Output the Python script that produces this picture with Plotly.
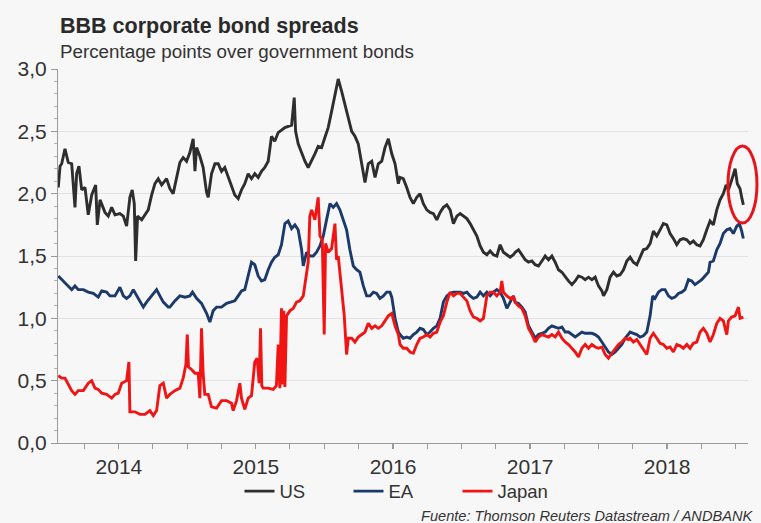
import pandas as pd
import plotly.graph_objects as go

# ---- data (decimal year, percentage points) ----
us = [(2014.057,2.05),(2014.070,2.22),(2014.082,2.24),(2014.106,2.36),(2014.130,2.25),(2014.155,2.24),(2014.179,1.89),(2014.191,2.16),(2014.208,2.22),(2014.228,2.03),(2014.252,2.05),(2014.276,1.83),(2014.301,1.99),(2014.330,2.07),(2014.342,1.75),(2014.362,1.95),(2014.398,1.85),(2014.422,1.82),(2014.447,1.89),(2014.471,1.83),(2014.507,1.84),(2014.532,1.82),(2014.556,1.74),(2014.580,1.97),(2014.597,2.03),(2014.612,1.92),(2014.622,1.46),(2014.636,1.82),(2014.666,1.79),(2014.690,1.83),(2014.714,1.87),(2014.739,1.99),(2014.763,2.08),(2014.787,2.12),(2014.812,2.07),(2014.848,2.12),
      (2014.872,2.04),(2014.896,2.00),(2014.921,2.13),(2014.945,2.25),(2014.969,2.29),(2014.994,2.26),(2015.018,2.33),(2015.042,2.44),(2015.055,2.18),(2015.067,2.37),(2015.091,2.30),(2015.115,2.21),(2015.140,2.01),(2015.152,1.97),(2015.176,2.16),(2015.201,2.24),(2015.225,2.24),(2015.249,2.18),(2015.273,2.21),(2015.298,2.13),(2015.322,2.05),(2015.346,1.99),(2015.371,1.96),(2015.395,2.03),(2015.419,2.08),(2015.444,2.16),(2015.468,2.12),(2015.492,2.16),(2015.517,2.13),(2015.541,2.18),(2015.565,2.21),(2015.590,2.26),(2015.614,2.46),(2015.638,2.42),(2015.663,2.49),(2015.687,2.51),
      (2015.712,2.53),(2015.736,2.54),(2015.761,2.55),(2015.780,2.77),(2015.790,2.50),(2015.809,2.40),(2015.834,2.33),(2015.858,2.26),(2015.882,2.21),(2015.907,2.26),(2015.931,2.32),(2015.955,2.38),(2015.980,2.37),(2016.004,2.45),(2016.028,2.53),(2016.053,2.66),(2016.077,2.79),(2016.101,2.92),(2016.126,2.82),(2016.150,2.71),(2016.174,2.61),(2016.199,2.50),(2016.223,2.46),(2016.247,2.40),(2016.272,2.24),(2016.296,2.09),(2016.320,2.24),(2016.345,2.26),(2016.369,2.13),(2016.393,2.24),(2016.418,2.26),(2016.442,2.37),(2016.466,2.44),(2016.491,2.32),(2016.515,2.24),(2016.539,2.08),
      (2016.551,2.13),(2016.575,2.12),(2016.600,2.05),(2016.624,1.97),(2016.648,1.92),(2016.673,1.97),(2016.697,2.00),(2016.721,1.92),(2016.746,1.87),(2016.770,1.85),(2016.794,1.84),(2016.819,1.79),(2016.843,1.85),(2016.867,1.89),(2016.892,1.91),(2016.916,1.87),(2016.940,1.76),(2016.965,1.82),(2016.989,1.84),(2017.013,1.82),(2017.038,1.80),(2017.062,1.76),(2017.086,1.71),(2017.111,1.66),(2017.135,1.58),(2017.159,1.53),(2017.184,1.51),(2017.208,1.54),(2017.232,1.51),(2017.257,1.50),(2017.281,1.59),(2017.305,1.53),(2017.330,1.51),(2017.354,1.49),(2017.378,1.51),
      (2017.391,1.53),(2017.415,1.55),(2017.440,1.51),(2017.464,1.47),(2017.488,1.45),(2017.513,1.46),(2017.537,1.43),(2017.561,1.42),(2017.586,1.46),(2017.610,1.50),(2017.634,1.47),(2017.659,1.50),(2017.683,1.45),(2017.707,1.39),(2017.732,1.37),(2017.756,1.33),(2017.780,1.30),(2017.805,1.27),(2017.829,1.30),(2017.853,1.34),(2017.878,1.33),(2017.902,1.31),(2017.926,1.33),(2017.951,1.31),(2017.975,1.33),(2017.999,1.26),(2018.024,1.22),(2018.036,1.18),(2018.060,1.23),(2018.084,1.33),(2018.109,1.37),(2018.133,1.34),(2018.157,1.35),(2018.182,1.39),(2018.206,1.46),
      (2018.230,1.49),(2018.254,1.45),(2018.279,1.43),(2018.303,1.49),(2018.327,1.55),(2018.352,1.56),(2018.376,1.60),(2018.400,1.70),(2018.425,1.66),(2018.449,1.71),(2018.473,1.76),(2018.498,1.75),(2018.522,1.68),(2018.546,1.64),(2018.571,1.59),(2018.595,1.63),(2018.619,1.64),(2018.644,1.63),(2018.668,1.60),(2018.692,1.62),(2018.717,1.59),(2018.741,1.58),(2018.765,1.63),(2018.790,1.71),(2018.814,1.78),(2018.838,1.75),(2018.863,1.87),(2018.887,1.95),(2018.911,2.00),(2018.931,2.07),(2018.948,2.03),(2018.972,2.11),(2018.997,2.20),(2019.013,2.08),(2019.033,2.04),(2019.045,1.97),(2019.057,1.91)]

ea = [(2014.057,1.34),(2014.082,1.31),(2014.106,1.29),(2014.130,1.26),(2014.155,1.23),(2014.179,1.26),(2014.203,1.23),(2014.240,1.23),(2014.276,1.21),(2014.313,1.20),(2014.349,1.17),(2014.374,1.22),(2014.410,1.21),(2014.434,1.18),(2014.471,1.18),(2014.507,1.25),(2014.532,1.18),(2014.556,1.16),(2014.580,1.18),(2014.605,1.23),(2014.629,1.18),(2014.653,1.13),(2014.678,1.09),(2014.702,1.13),(2014.739,1.18),(2014.775,1.23),(2014.799,1.18),(2014.824,1.13),(2014.860,1.09),
      (2014.872,1.09),(2014.908,1.14),(2014.945,1.18),(2014.982,1.17),(2015.018,1.18),(2015.037,1.21),(2015.067,1.16),(2015.103,1.12),(2015.140,1.04),(2015.164,0.97),(2015.188,1.06),(2015.213,1.09),(2015.249,1.09),(2015.286,1.12),(2015.310,1.13),(2015.346,1.14),(2015.371,1.18),(2015.395,1.22),(2015.419,1.23),(2015.444,1.34),(2015.468,1.45),(2015.492,1.43),(2015.517,1.34),(2015.541,1.30),(2015.565,1.31),(2015.590,1.39),(2015.614,1.45),(2015.638,1.49),(2015.663,1.51),(2015.687,1.59),
      (2015.712,1.76),(2015.736,1.78),(2015.761,1.72),(2015.785,1.75),(2015.809,1.71),(2015.834,1.55),(2015.846,1.42),(2015.870,1.53),(2015.894,1.50),(2015.919,1.50),(2015.943,1.53),(2015.968,1.58),(2015.992,1.66),(2016.016,1.79),(2016.041,1.92),(2016.065,1.89),(2016.089,1.92),(2016.113,1.87),(2016.138,1.79),(2016.162,1.71),(2016.186,1.55),(2016.211,1.42),(2016.235,1.39),(2016.259,1.37),(2016.284,1.26),(2016.308,1.18),(2016.332,1.18),(2016.357,1.21),(2016.381,1.20),(2016.405,1.16),(2016.430,1.18),(2016.454,1.21),(2016.478,1.21),(2016.491,1.17),(2016.515,1.00),(2016.539,0.89),
      (2016.551,0.87),(2016.575,0.84),(2016.600,0.85),(2016.624,0.84),(2016.648,0.87),(2016.673,0.89),(2016.697,0.92),(2016.721,0.91),(2016.746,0.87),(2016.770,0.89),(2016.794,0.92),(2016.819,0.94),(2016.843,1.00),(2016.867,1.13),(2016.892,1.18),(2016.916,1.20),(2016.940,1.21),(2016.965,1.21),(2016.989,1.21),(2017.013,1.20),(2017.038,1.21),(2017.062,1.18),(2017.086,1.16),(2017.111,1.17),(2017.135,1.21),(2017.159,1.18),(2017.184,1.21),(2017.208,1.18),(2017.232,1.21),(2017.257,1.23),(2017.281,1.21),(2017.305,1.16),(2017.330,1.08),(2017.354,1.13),(2017.378,1.18),
      (2017.391,1.13),(2017.415,1.12),(2017.440,1.09),(2017.464,1.05),(2017.488,0.94),(2017.513,0.89),(2017.537,0.84),(2017.561,0.87),(2017.586,0.88),(2017.610,0.89),(2017.634,0.92),(2017.659,0.94),(2017.683,0.93),(2017.707,0.92),(2017.732,0.93),(2017.756,0.89),(2017.780,0.89),(2017.805,0.87),(2017.829,0.85),(2017.853,0.87),(2017.878,0.89),(2017.902,0.88),(2017.926,0.88),(2017.951,0.88),(2017.975,0.87),(2017.999,0.85),(2018.024,0.81),(2018.048,0.77),(2018.072,0.73),(2018.097,0.71),(2018.121,0.73),(2018.145,0.76),(2018.170,0.79),(2018.194,0.84),(2018.218,0.88),
      (2018.230,0.89),(2018.254,0.88),(2018.279,0.87),(2018.303,0.85),(2018.327,0.86),(2018.352,0.89),(2018.376,1.02),(2018.395,1.18),(2018.412,1.16),(2018.437,1.21),(2018.461,1.23),(2018.485,1.23),(2018.510,1.18),(2018.534,1.16),(2018.558,1.17),(2018.583,1.20),(2018.607,1.21),(2018.631,1.23),(2018.656,1.31),(2018.680,1.30),(2018.704,1.27),(2018.729,1.29),(2018.753,1.31),(2018.777,1.34),(2018.802,1.37),(2018.814,1.45),(2018.838,1.46),(2018.863,1.55),(2018.887,1.60),(2018.911,1.68),(2018.936,1.71),(2018.960,1.72),(2018.984,1.68),(2019.009,1.74),(2019.028,1.76),(2019.045,1.70),(2019.057,1.64)]

japan = [(2014.057,0.54),(2014.082,0.52),(2014.106,0.52),(2014.130,0.47),(2014.155,0.42),(2014.179,0.39),(2014.203,0.42),(2014.240,0.42),(2014.276,0.48),(2014.301,0.50),(2014.325,0.44),(2014.349,0.43),(2014.374,0.40),(2014.410,0.39),(2014.447,0.36),(2014.471,0.39),(2014.495,0.40),(2014.520,0.48),(2014.556,0.50),(2014.573,0.65),(2014.580,0.25),(2014.617,0.25),(2014.653,0.23),(2014.690,0.23),(2014.726,0.26),(2014.751,0.22),(2014.775,0.26),(2014.799,0.46),(2014.824,0.48),(2014.848,0.36),
         (2014.872,0.39),(2014.908,0.42),(2014.945,0.44),(2014.969,0.52),(2014.989,0.63),(2014.999,0.87),(2015.008,0.61),(2015.030,0.59),(2015.055,0.56),(2015.079,0.56),(2015.091,0.36),(2015.103,0.92),(2015.115,0.55),(2015.127,0.39),(2015.152,0.39),(2015.176,0.29),(2015.213,0.28),(2015.249,0.34),(2015.286,0.34),(2015.322,0.32),(2015.334,0.26),(2015.359,0.34),(2015.383,0.48),(2015.395,0.36),(2015.419,0.27),(2015.444,0.36),(2015.468,0.38),(2015.492,0.65),(2015.509,0.68),(2015.524,0.48),(2015.534,0.92),(2015.543,0.46),(2015.553,0.44),(2015.590,0.44),(2015.626,0.43),(2015.650,0.46),(2015.663,0.79),(2015.675,0.44),(2015.687,1.08),(2015.694,0.47),(2015.704,1.06),
         (2015.712,0.45),(2015.724,1.02),(2015.748,1.06),(2015.773,1.08),(2015.797,1.13),(2015.821,1.14),(2015.846,1.18),(2015.863,1.31),(2015.882,1.45),(2015.894,1.82),(2015.907,1.87),(2015.931,1.79),(2015.955,1.97),(2015.968,1.66),(2015.985,1.63),(2015.999,0.87),(2016.009,1.60),(2016.028,1.53),(2016.053,1.56),(2016.077,1.76),(2016.089,1.47),(2016.101,1.50),(2016.113,1.34),(2016.126,1.23),(2016.145,1.02),(2016.162,0.71),(2016.174,0.84),(2016.199,0.84),(2016.223,0.81),(2016.247,0.85),(2016.272,0.87),(2016.296,0.89),(2016.320,0.96),(2016.345,0.92),(2016.369,0.94),(2016.393,0.92),(2016.418,0.94),(2016.442,0.98),(2016.466,1.02),(2016.491,1.04),(2016.515,0.94),(2016.539,0.87),
         (2016.551,0.79),(2016.575,0.76),(2016.600,0.76),(2016.624,0.73),(2016.648,0.72),(2016.673,0.79),(2016.697,0.84),(2016.721,0.85),(2016.746,0.87),(2016.770,0.85),(2016.794,0.88),(2016.819,0.89),(2016.843,0.97),(2016.867,1.02),(2016.892,1.13),(2016.916,1.21),(2016.940,1.18),(2016.965,1.20),(2016.989,1.20),(2017.013,1.17),(2017.038,1.14),(2017.062,1.06),(2017.086,1.01),(2017.111,1.00),(2017.135,0.98),(2017.159,1.00),(2017.184,1.18),(2017.208,1.21),(2017.232,1.21),(2017.257,1.18),(2017.281,1.21),(2017.293,1.30),(2017.305,1.21),(2017.330,1.18),(2017.354,1.16),(2017.378,1.17),
         (2017.391,1.13),(2017.415,1.10),(2017.440,1.08),(2017.464,1.02),(2017.488,0.92),(2017.513,0.87),(2017.537,0.81),(2017.561,0.85),(2017.586,0.87),(2017.610,0.86),(2017.634,0.85),(2017.659,0.87),(2017.683,0.85),(2017.707,0.89),(2017.732,0.84),(2017.756,0.81),(2017.780,0.79),(2017.805,0.76),(2017.829,0.73),(2017.853,0.69),(2017.878,0.76),(2017.902,0.79),(2017.926,0.76),(2017.951,0.79),(2017.975,0.77),(2017.999,0.76),(2018.024,0.77),(2018.048,0.71),(2018.072,0.68),(2018.097,0.72),(2018.121,0.76),(2018.145,0.79),(2018.170,0.81),(2018.194,0.84),(2018.218,0.83),
         (2018.230,0.84),(2018.254,0.81),(2018.279,0.83),(2018.303,0.79),(2018.327,0.75),(2018.352,0.71),(2018.376,0.84),(2018.400,0.88),(2018.425,0.84),(2018.449,0.80),(2018.473,0.79),(2018.498,0.76),(2018.522,0.77),(2018.546,0.73),(2018.571,0.79),(2018.595,0.78),(2018.619,0.76),(2018.644,0.79),(2018.668,0.76),(2018.692,0.80),(2018.717,0.81),(2018.741,0.89),(2018.765,0.92),(2018.790,0.88),(2018.814,0.81),(2018.838,0.87),(2018.863,0.96),(2018.887,1.00),(2018.911,0.98),(2018.936,0.87),(2018.948,0.98),(2018.972,1.01),(2018.997,1.02),(2019.021,1.09),(2019.033,1.00),(2019.057,1.01)]

years = [2014, 2015, 2016, 2017, 2018]
year_labels = ["2014", "2015", "2016", "2017", "2018"]
series_names = ["US", "EA", "Japan"]
series_colors = ["#2e2e2e", "#1b3a6b", "#f01414"]


def to_date(t):
    y = int(t)
    start = pd.Timestamp(year=y, month=1, day=1)
    end = pd.Timestamp(year=y + 1, month=1, day=1)
    return start + (end - start) * (t - y)


FONT = "Liberation Sans, Arial, sans-serif"
fig = go.Figure()
for name, data, color in zip(series_names, [us, ea, japan], series_colors):
    fig.add_trace(go.Scatter(
        x=[to_date(t) for t, _ in data], y=[v for _, v in data],
        mode="lines", name=name, line=dict(color=color, width=2.9),
    ))

fig.update_layout(
    width=761, height=523,
    margin=dict(l=58, r=13, t=69, b=75),
    paper_bgcolor="#f7f7f7", plot_bgcolor="#f7f7f7",
    separators=",.",
    font=dict(family=FONT, color="#333333", size=18),
    showlegend=True,
    legend=dict(orientation="h", x=0.50, xanchor="center", y=-0.13, yanchor="middle",
                font=dict(size=18.5, color="#333333"), bgcolor="rgba(0,0,0,0)",
                traceorder="normal", entrywidth=64, entrywidthmode="pixels"),
    xaxis=dict(
        type="date",
        range=[to_date(2014.055), to_date(2019.091)],
        tickmode="array",
        tickvals=[to_date(y + 0.5) for y in years],
        ticktext=year_labels,
        ticks="outside", ticklen=5, tickcolor="#9a9a9a",
        tickfont=dict(size=21, color="#333333"),
        showgrid=False, zeroline=False,
        showline=True, linecolor="#9a9a9a", linewidth=1,
        minor=dict(ticks="outside", ticklen=5, tickcolor="#9a9a9a", dtick="M3",
                   tick0="2014-01-01", showgrid=False),
    ),
    yaxis=dict(
        range=[0, 3], dtick=0.5, tick0=0, tickformat=".1f",
        ticks="outside", ticklen=6, tickcolor="#9a9a9a",
        tickfont=dict(size=21, color="#333333"),
        showgrid=True, gridcolor="#e2e2e2", gridwidth=1,
        zeroline=False, showline=True, linecolor="#9a9a9a", linewidth=1,
        minor=dict(ticks="outside", ticklen=3, tickcolor="#b0b0b0", dtick=0.1, showgrid=False),
    ),
    annotations=[
        dict(text="<b>BBB corporate bond spreads</b>", xref="paper", yref="paper",
             x=0.0, y=1.116, xanchor="left", yanchor="middle", showarrow=False,
             font=dict(size=21.5, color="#2a2a2a", family=FONT)),
        dict(text="Percentage points over government bonds", xref="paper", yref="paper",
             x=0.0, y=1.0475, xanchor="left", yanchor="middle", showarrow=False,
             font=dict(size=18.8, color="#333333", family=FONT)),
        dict(text="<i>Fuente: Thomson Reuters Datastream / ANDBANK</i>", xref="paper", yref="paper",
             x=1.0101, y=-0.195, xanchor="right", yanchor="middle", showarrow=False,
             font=dict(size=14.6, color="#333333", family=FONT)),
    ],
    shapes=[
        dict(type="circle", xref="paper", yref="paper", x0=0.971, x1=1.013, y0=0.588, y1=0.794,
             line=dict(color="#e8141c", width=3), fillcolor="rgba(0,0,0,0)", layer="above"),
    ],
)

fig.write_html("out.html")
